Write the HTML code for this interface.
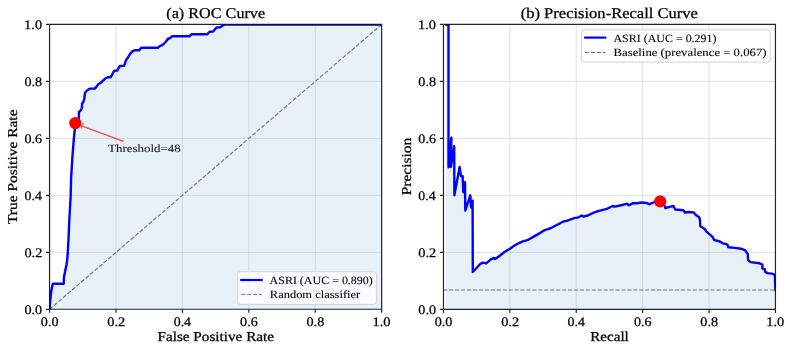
<!DOCTYPE html><html><head><meta charset="utf-8"><title>ROC and PR curves</title><style>html,body{margin:0;padding:0;background:#fff;}svg{display:block;will-change:transform;}text{font-family:"Liberation Serif",serif;stroke:currentColor;stroke-width:0.25px;text-rendering:geometricPrecision;}</style></head><body>
<svg width="792" height="352" viewBox="0 0 792 352">
<rect width="792" height="352" fill="#fff"/>
<defs><clipPath id="cl"><rect x="49.5" y="24.5" width="332.0" height="285.0"/></clipPath><clipPath id="cr"><rect x="443.5" y="24.5" width="332.0" height="285.0"/></clipPath></defs>
<g clip-path="url(#cl)">
<polygon points="49.5,309.5 50.3,300.0 50.9,293.9 51.8,288.0 52.8,283.7 63.7,283.7 63.9,277.5 65.0,272.0 66.4,265.0 67.2,259.8 67.8,252.0 68.6,237.0 69.2,222.0 70.7,195.0 71.1,178.3 72.4,157.0 73.9,137.8 74.9,128.2 75.4,123.0 77.5,119.0 78.9,118.5 78.9,112.0 80.9,110.4 81.9,108.0 82.0,103.6 83.3,102.2 84.3,98.2 84.6,96.0 84.9,94.0 85.1,92.5 87.1,90.5 89.6,88.6 94.8,88.6 96.5,86.6 98.2,84.3 100.7,82.8 102.4,81.1 105.4,78.5 107.7,77.2 110.7,77.2 112.6,73.6 114.1,70.7 117.3,70.6 119.6,66.0 124.0,65.7 125.0,63.5 125.7,61.0 126.8,58.9 128.3,57.1 130.0,54.0 131.4,52.2 133.4,50.6 135.5,50.3 139.2,50.3 141.3,47.8 157.8,47.8 160.1,45.8 162.6,45.0 165.6,42.0 167.7,39.0 169.9,38.2 172.0,36.3 189.3,36.3 191.6,34.2 207.3,34.2 209.9,31.7 213.1,31.6 216.5,27.5 220.2,27.2 222.5,25.8 224.5,24.5 381.5,24.5 381.5,309.5 49.5,309.5" fill="#e8f0f8"/>
<path d="M115.97 24.5V309.5M49.5 252.33H381.5M182.39 24.5V309.5M49.5 195.36H381.5M248.81 24.5V309.5M49.5 138.39H381.5M315.23 24.5V309.5M49.5 81.42H381.5" stroke="#b0b0b0" stroke-opacity="0.36" stroke-width="1.0" fill="none"/>
<line x1="49.55" y1="309.3" x2="381.65" y2="24.45" stroke="#767676" stroke-width="1.15" stroke-dasharray="4.1 1.84"/>
<polyline points="49.5,309.5 50.3,300.0 50.9,293.9 51.8,288.0 52.8,283.7 63.7,283.7 63.9,277.5 65.0,272.0 66.4,265.0 67.2,259.8 67.8,252.0 68.6,237.0 69.2,222.0 70.7,195.0 71.1,178.3 72.4,157.0 73.9,137.8 74.9,128.2 75.4,123.0 77.5,119.0 78.9,118.5 78.9,112.0 80.9,110.4 81.9,108.0 82.0,103.6 83.3,102.2 84.3,98.2 84.6,96.0 84.9,94.0 85.1,92.5 87.1,90.5 89.6,88.6 94.8,88.6 96.5,86.6 98.2,84.3 100.7,82.8 102.4,81.1 105.4,78.5 107.7,77.2 110.7,77.2 112.6,73.6 114.1,70.7 117.3,70.6 119.6,66.0 124.0,65.7 125.0,63.5 125.7,61.0 126.8,58.9 128.3,57.1 130.0,54.0 131.4,52.2 133.4,50.6 135.5,50.3 139.2,50.3 141.3,47.8 157.8,47.8 160.1,45.8 162.6,45.0 165.6,42.0 167.7,39.0 169.9,38.2 172.0,36.3 189.3,36.3 191.6,34.2 207.3,34.2 209.9,31.7 213.1,31.6 216.5,27.5 220.2,27.2 222.5,25.8 224.5,24.5 381.5,24.5" fill="none" stroke="#0000ff" stroke-width="2.4" stroke-linejoin="round" stroke-linecap="square"/>
</g>
<path d="M81.0 125.6L123.6 141.4M83.7 123.1L81.0 125.6L81.7 128.5" fill="none" stroke="#ff0000" stroke-opacity="0.7" stroke-width="1.15"/>
<circle cx="75.25" cy="123.1" r="6.1" fill="#ff0000"/>
<text x="108.07" y="151.90" font-size="11.1" textLength="72.63" lengthAdjust="spacingAndGlyphs" fill="#1a1a1a" style="stroke-width:0.08px">Threshold=48</text>
<path d="M49.55 23.9V309.75M381.65 23.9V309.75M49.05 24.4H382.15M49.05 309.25H382.15M49.55 309.25v3.6M49.55 309.30h-3.6M115.97 309.25v3.6M49.55 252.33h-3.6M182.39 309.25v3.6M49.55 195.36h-3.6M248.81 309.25v3.6M49.55 138.39h-3.6M315.23 309.25v3.6M49.55 81.42h-3.6M381.65 309.25v3.6M49.55 24.45h-3.6" stroke="#000" stroke-opacity="0.85" stroke-width="1.2" fill="none"/>
<text x="40.86" y="325.90" font-size="13.0" textLength="17.68" lengthAdjust="spacingAndGlyphs" fill="#000">0.0</text><text x="24.46" y="313.60" font-size="13.0" textLength="17.68" lengthAdjust="spacingAndGlyphs" fill="#000">0.0</text><text x="107.27" y="325.90" font-size="13.0" textLength="17.94" lengthAdjust="spacingAndGlyphs" fill="#000">0.2</text><text x="24.45" y="256.63" font-size="13.0" textLength="17.94" lengthAdjust="spacingAndGlyphs" fill="#000">0.2</text><text x="173.71" y="325.90" font-size="13.0" textLength="17.35" lengthAdjust="spacingAndGlyphs" fill="#000">0.4</text><text x="24.47" y="199.66" font-size="13.0" textLength="17.35" lengthAdjust="spacingAndGlyphs" fill="#000">0.4</text><text x="240.13" y="325.90" font-size="13.0" textLength="17.55" lengthAdjust="spacingAndGlyphs" fill="#000">0.6</text><text x="24.47" y="142.69" font-size="13.0" textLength="17.55" lengthAdjust="spacingAndGlyphs" fill="#000">0.6</text><text x="306.54" y="325.90" font-size="13.0" textLength="17.68" lengthAdjust="spacingAndGlyphs" fill="#000">0.8</text><text x="24.46" y="85.72" font-size="13.0" textLength="17.68" lengthAdjust="spacingAndGlyphs" fill="#000">0.8</text><text x="372.43" y="325.90" font-size="13.0" textLength="18.02" lengthAdjust="spacingAndGlyphs" fill="#000">1.0</text><text x="24.13" y="28.75" font-size="13.0" textLength="18.02" lengthAdjust="spacingAndGlyphs" fill="#000">1.0</text>
<rect x="237.7" y="271.7" width="138.7" height="32.7" rx="2.2" fill="#fff" fill-opacity="0.8" stroke="#d3d3d3" stroke-width="1"/>
<line x1="240.1" y1="280" x2="262.8" y2="280" stroke="#0000ff" stroke-width="2.2"/>
<line x1="241.3" y1="294.4" x2="261.8" y2="294.4" stroke="#767676" stroke-width="1" stroke-dasharray="4.1 1.8"/>
<text x="269.58" y="283.90" font-size="11.1" textLength="103.24" lengthAdjust="spacingAndGlyphs" fill="#000" style="stroke-width:0.08px">ASRI (AUC = 0.890)</text>
<text x="269.84" y="298.00" font-size="11.1" textLength="90.37" lengthAdjust="spacingAndGlyphs" fill="#000" style="stroke-width:0.08px">Random classifier</text>
<text x="166.29" y="17.80" font-size="14.9" textLength="98.87" lengthAdjust="spacingAndGlyphs" fill="#000">(a) ROC Curve</text>
<text x="157.46" y="341.40" font-size="13.6" textLength="116.57" lengthAdjust="spacingAndGlyphs" fill="#000">False Positive Rate</text>
<text transform="translate(17.00,224.08) rotate(-90)" x="0" y="0" font-size="13.6" textLength="114.61" lengthAdjust="spacingAndGlyphs">True Positive Rate</text>
<g clip-path="url(#cr)">
<polygon points="446.0,24.5 448.5,24.5 448.5,167.2 451.4,137.7 450.8,167.0 454.2,146.2 454.4,195.3 459.6,166.9 461.0,176.3 462.6,176.3 463.3,192.2 465.0,182.2 465.3,210.6 470.3,195.3 471.1,207.5 472.6,200.6 472.8,272.0 480.2,264.0 482.8,262.6 486.2,263.3 490.5,259.6 493.9,257.9 495.1,259.0 499.8,255.8 504.1,252.3 510.0,248.7 514.8,245.3 518.5,243.3 522.8,241.3 527.3,240.2 534.1,236.4 539.1,233.6 543.2,230.9 547.8,229.0 550.0,228.5 556.3,225.2 563.9,221.3 565.9,221.1 574.9,217.9 577.4,217.8 581.8,215.5 583.3,216.5 587.8,215.5 593.2,212.9 596.7,211.5 600.0,210.6 606.8,208.9 612.8,206.0 614.9,206.7 622.2,205.0 627.3,203.7 628.6,205.3 633.2,203.1 636.7,203.3 641.8,202.5 646.0,202.9 649.4,204.2 654.6,202.0 660.2,201.4 664.6,205.6 665.4,208.0 673.3,205.9 675.2,209.5 683.4,210.3 685.0,212.5 688.3,212.0 693.9,212.4 695.1,214.3 696.8,215.6 699.0,217.3 700.0,219.8 700.3,226.3 702.8,227.7 704.9,229.3 706.3,231.3 708.5,233.4 710.6,235.2 712.7,237.2 714.1,240.0 719.8,241.5 722.7,243.3 727.2,244.3 728.4,247.2 734.7,247.9 741.2,248.8 744.9,250.1 747.7,253.8 748.2,260.3 750.5,262.1 759.6,263.3 762.4,264.5 762.4,268.5 764.7,269.1 765.2,271.9 767.5,273.1 772.0,273.6 774.8,274.8 775.5,290.3 775.5,309.5 446.0,309.5" fill="#e8f0f8"/>
<path d="M509.85 24.5V309.5M443.5 252.33H775.5M576.25 24.5V309.5M443.5 195.36H775.5M642.65 24.5V309.5M443.5 138.39H775.5M709.05 24.5V309.5M443.5 81.42H775.5" stroke="#b0b0b0" stroke-opacity="0.36" stroke-width="1.0" fill="none"/>
<line x1="443.45" y1="290.0" x2="775.45" y2="290.0" stroke="#767676" stroke-width="1.15" stroke-dasharray="4.1 1.84" stroke-dashoffset="0.2"/>
<polyline points="446.0,24.5 448.5,24.5 448.5,167.2 451.4,137.7 450.8,167.0 454.2,146.2 454.4,195.3 459.6,166.9 461.0,176.3 462.6,176.3 463.3,192.2 465.0,182.2 465.3,210.6 470.3,195.3 471.1,207.5 472.6,200.6 472.8,272.0 480.2,264.0 482.8,262.6 486.2,263.3 490.5,259.6 493.9,257.9 495.1,259.0 499.8,255.8 504.1,252.3 510.0,248.7 514.8,245.3 518.5,243.3 522.8,241.3 527.3,240.2 534.1,236.4 539.1,233.6 543.2,230.9 547.8,229.0 550.0,228.5 556.3,225.2 563.9,221.3 565.9,221.1 574.9,217.9 577.4,217.8 581.8,215.5 583.3,216.5 587.8,215.5 593.2,212.9 596.7,211.5 600.0,210.6 606.8,208.9 612.8,206.0 614.9,206.7 622.2,205.0 627.3,203.7 628.6,205.3 633.2,203.1 636.7,203.3 641.8,202.5 646.0,202.9 649.4,204.2 654.6,202.0 660.2,201.4 664.6,205.6 665.4,208.0 673.3,205.9 675.2,209.5 683.4,210.3 685.0,212.5 688.3,212.0 693.9,212.4 695.1,214.3 696.8,215.6 699.0,217.3 700.0,219.8 700.3,226.3 702.8,227.7 704.9,229.3 706.3,231.3 708.5,233.4 710.6,235.2 712.7,237.2 714.1,240.0 719.8,241.5 722.7,243.3 727.2,244.3 728.4,247.2 734.7,247.9 741.2,248.8 744.9,250.1 747.7,253.8 748.2,260.3 750.5,262.1 759.6,263.3 762.4,264.5 762.4,268.5 764.7,269.1 765.2,271.9 767.5,273.1 772.0,273.6 774.8,274.8 775.5,290.3" fill="none" stroke="#0000ff" stroke-width="2.4" stroke-linejoin="round" stroke-linecap="square"/>
</g>
<circle cx="660.2" cy="201.4" r="6.1" fill="#ff0000"/>
<path d="M443.45 23.95V309.8M775.45 23.95V309.8M442.95 24.45H775.95M442.95 309.3H775.95M443.45 309.3v3.6M443.45 309.30h-3.6M509.85 309.3v3.6M443.45 252.33h-3.6M576.25 309.3v3.6M443.45 195.36h-3.6M642.65 309.3v3.6M443.45 138.39h-3.6M709.05 309.3v3.6M443.45 81.42h-3.6M775.45 309.3v3.6M443.45 24.45h-3.6" stroke="#000" stroke-opacity="0.85" stroke-width="1.2" fill="none"/>
<text x="434.76" y="325.90" font-size="13.0" textLength="17.68" lengthAdjust="spacingAndGlyphs" fill="#000">0.0</text><text x="418.36" y="313.60" font-size="13.0" textLength="17.68" lengthAdjust="spacingAndGlyphs" fill="#000">0.0</text><text x="501.15" y="325.90" font-size="13.0" textLength="17.94" lengthAdjust="spacingAndGlyphs" fill="#000">0.2</text><text x="418.35" y="256.63" font-size="13.0" textLength="17.94" lengthAdjust="spacingAndGlyphs" fill="#000">0.2</text><text x="567.57" y="325.90" font-size="13.0" textLength="17.35" lengthAdjust="spacingAndGlyphs" fill="#000">0.4</text><text x="418.37" y="199.66" font-size="13.0" textLength="17.35" lengthAdjust="spacingAndGlyphs" fill="#000">0.4</text><text x="633.97" y="325.90" font-size="13.0" textLength="17.55" lengthAdjust="spacingAndGlyphs" fill="#000">0.6</text><text x="418.37" y="142.69" font-size="13.0" textLength="17.55" lengthAdjust="spacingAndGlyphs" fill="#000">0.6</text><text x="700.36" y="325.90" font-size="13.0" textLength="17.68" lengthAdjust="spacingAndGlyphs" fill="#000">0.8</text><text x="418.36" y="85.72" font-size="13.0" textLength="17.68" lengthAdjust="spacingAndGlyphs" fill="#000">0.8</text><text x="766.23" y="325.90" font-size="13.0" textLength="18.02" lengthAdjust="spacingAndGlyphs" fill="#000">1.0</text><text x="418.03" y="28.75" font-size="13.0" textLength="18.02" lengthAdjust="spacingAndGlyphs" fill="#000">1.0</text>
<rect x="581.6" y="29.75" width="188.6" height="32.35" rx="2.2" fill="#fff" fill-opacity="0.8" stroke="#d3d3d3" stroke-width="1"/>
<line x1="584.1" y1="37.6" x2="606.3" y2="37.6" stroke="#0000ff" stroke-width="2.2"/>
<line x1="585" y1="52.5" x2="605.5" y2="52.5" stroke="#767676" stroke-width="1" stroke-dasharray="4.1 1.8"/>
<text x="613.48" y="41.70" font-size="11.1" textLength="103.04" lengthAdjust="spacingAndGlyphs" fill="#000" style="stroke-width:0.08px">ASRI (AUC = 0.291)</text>
<text x="613.53" y="55.80" font-size="11.1" textLength="153.03" lengthAdjust="spacingAndGlyphs" fill="#000" style="stroke-width:0.08px">Baseline (prevalence = 0.067)</text>
<text x="520.67" y="17.80" font-size="14.9" textLength="177.30" lengthAdjust="spacingAndGlyphs" fill="#000">(b) Precision-Recall Curve</text>
<text x="590.27" y="341.30" font-size="13.6" textLength="38.54" lengthAdjust="spacingAndGlyphs" fill="#000">Recall</text>
<text transform="translate(410.60,195.35) rotate(-90)" x="0" y="0" font-size="13.6" textLength="57.58" lengthAdjust="spacingAndGlyphs">Precision</text>
</svg></body></html>
